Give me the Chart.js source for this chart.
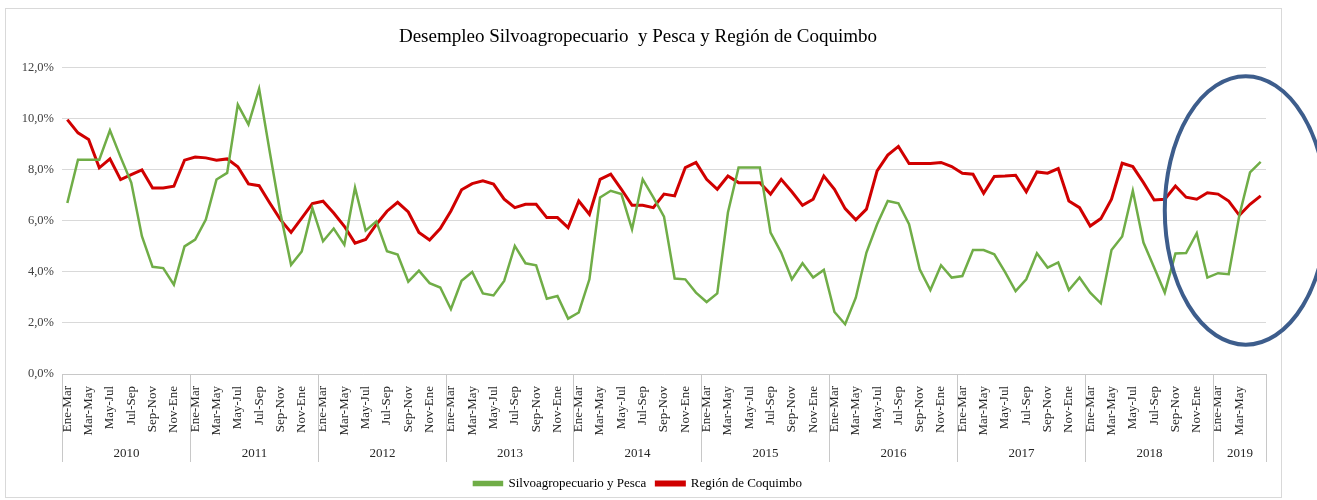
<!DOCTYPE html>
<html>
<head>
<meta charset="utf-8">
<script src="https://cdn.jsdelivr.net/npm/chart.js@4.4.1/dist/chart.umd.min.js"></script>
<style>
  html, body { margin: 0; padding: 0; background: #fff; }
  #wrap { position: relative; width: 1317px; height: 500px; }
</style>
</head>
<body>
<div id="wrap"><canvas id="desempleo"></canvas></div>
<script>
  // trimestres moviles
  var periods = ['Ene-Mar','Feb-Abr','Mar-May','Abr-Jun','May-Jul','Jun-Ago','Jul-Sep','Ago-Oct','Sep-Nov','Oct-Dic','Nov-Ene','Dic-Feb'];
  var years = ['2010','2011','2012','2013','2014','2015','2016','2017','2018','2019'];

  var silvo = [
    6.7, 8.4, 8.4, 8.4, 9.55, 8.5, 7.5, 5.4, 4.2, 4.15, 3.5, 5.0,
    5.27, 6.05, 7.62, 7.88, 10.56, 9.78, 11.18, 8.7, 6.3, 4.28, 4.8, 6.5,
    5.2, 5.7, 5.07, 7.3, 5.62, 5.98, 4.81, 4.68, 3.62, 4.05, 3.56, 3.39,
    2.54, 3.65, 4.0, 3.16, 3.08, 3.65, 5.02, 4.34, 4.26, 2.95, 3.06, 2.17,
    2.41, 3.71, 6.92, 7.18, 7.05, 5.67, 7.63, 6.92, 6.17, 3.74, 3.71, 3.19,
    2.82, 3.16, 6.33, 8.09, 8.09, 8.09, 5.54, 4.76, 3.71, 4.34, 3.78, 4.08,
    2.43, 1.95, 2.99, 4.76, 5.87, 6.78, 6.69, 5.87, 4.1, 3.29, 4.26, 3.78,
    3.84, 4.86, 4.86, 4.69, 4.0, 3.25, 3.71, 4.73, 4.17, 4.37, 3.29, 3.78,
    3.19, 2.77, 4.86, 5.39, 7.18, 5.15, 4.17, 3.19, 4.72, 4.74, 5.52, 3.78,
    3.95, 3.91, 6.22, 7.9, 8.31
  ];
  var coquimbo = [
    9.97, 9.45, 9.19, 8.08, 8.43, 7.62, 7.81, 8.0, 7.29, 7.29, 7.36, 8.38,
    8.5, 8.47, 8.38, 8.43, 8.12, 7.45, 7.38, 6.7, 6.05, 5.55, 6.11, 6.68,
    6.77, 6.31, 5.79, 5.13, 5.27, 5.86, 6.38, 6.73, 6.35, 5.55, 5.25, 5.7,
    6.39, 7.22, 7.46, 7.57, 7.44, 6.85, 6.52, 6.65, 6.65, 6.13, 6.13, 5.74,
    6.78, 6.26, 7.63, 7.83, 7.24, 6.61, 6.61, 6.52, 7.05, 6.98, 8.09, 8.29,
    7.63, 7.24, 7.76, 7.5, 7.5, 7.5, 7.05, 7.63, 7.14, 6.61, 6.85, 7.76,
    7.24, 6.48, 6.04, 6.46, 7.96, 8.58, 8.92, 8.25, 8.25, 8.25, 8.29, 8.13,
    7.87, 7.83, 7.08, 7.74, 7.76, 7.79, 7.14, 7.92, 7.87, 8.05, 6.78, 6.52,
    5.8, 6.09, 6.85, 8.26, 8.13, 7.5, 6.82, 6.85, 7.37, 6.93, 6.85, 7.1,
    7.05, 6.78, 6.22, 6.65, 6.98
  ];
  var yTicks = [0, 2, 4, 6, 8, 10, 12];

  // zona destacada (ovalo azul), en unidades del grafico
  var highlight = { from: 103.0, to: 118.2, low: 1.15, high: 11.67 };

  var labels = [];
  years.forEach(function (yr) {
    periods.forEach(function (p) {
      if (labels.length < silvo.length) labels.push(p);
    });
  });

  var serif = "'Liberation Serif', 'Times New Roman', serif";

  var framePlugin = {
    id: 'frame',
    beforeDraw: function (chart) {
      var c = chart.ctx;
      c.save();
      c.fillStyle = '#fff';
      c.fillRect(0, 0, chart.width, chart.height);
      c.strokeStyle = '#d9d9d9';
      c.lineWidth = 1;
      c.strokeRect(5.5, 8.5, 1276, 489);
      c.restore();
    }
  };

  var yearPlugin = {
    id: 'yearAxis',
    afterDraw: function (chart) {
      var x = chart.scales.x, area = chart.chartArea, c = chart.ctx;
      var half = (x.getPixelForValue(1) - x.getPixelForValue(0)) / 2;
      c.save();
      c.strokeStyle = '#c8c8c8';
      c.lineWidth = 1;
      c.fillStyle = '#262626';
      c.font = '13px ' + serif;
      c.textAlign = 'center';
      c.textBaseline = 'middle';
      years.forEach(function (yr, k) {
        var s = k * 12;
        var e = Math.min(s + 12, labels.length) - 1;
        var left = Math.round(x.getPixelForValue(s) - half) + 0.5;
        var right = Math.round(x.getPixelForValue(e) + half) + 0.5;
        c.beginPath();
        c.moveTo(left, area.bottom);
        c.lineTo(left, area.bottom + 88);
        if (k === years.length - 1) {
          c.moveTo(right, area.bottom);
          c.lineTo(right, area.bottom + 88);
        }
        c.stroke();
        c.fillText(yr, (left + right) / 2, area.bottom + 80);
      });
      c.restore();
    }
  };

  var ovalPlugin = {
    id: 'oval',
    afterDraw: function (chart) {
      var x = chart.scales.x, y = chart.scales.y, c = chart.ctx;
      var x1 = x.getPixelForValue(highlight.from), x2 = x.getPixelForValue(highlight.to);
      var y1 = y.getPixelForValue(highlight.high), y2 = y.getPixelForValue(highlight.low);
      c.save();
      c.strokeStyle = '#3d5d8c';
      c.lineWidth = 4;
      c.beginPath();
      c.ellipse((x1 + x2) / 2, (y1 + y2) / 2, (x2 - x1) / 2, (y2 - y1) / 2, 0, 0, Math.PI * 2);
      c.stroke();
      c.restore();
    }
  };

  var ctx = document.getElementById('desempleo');
  var myChart = new Chart(ctx, {
    type: 'line',
    data: {
      labels: labels,
      datasets: [{
        label: 'Silvoagropecuario y Pesca',
        data: silvo,
        borderColor: '#70ad47',
        backgroundColor: '#70ad47',
        borderWidth: 2.5,
        pointRadius: 0,
        tension: 0
      }, {
        label: 'Región de Coquimbo',
        data: coquimbo,
        borderColor: '#d00000',
        backgroundColor: '#d00000',
        borderWidth: 3,
        pointRadius: 0,
        tension: 0
      }]
    },
    options: {
      responsive: true,
      maintainAspectRatio: false,
      animation: false,
      layout: { padding: { left: 10, right: 51, top: 0, bottom: 0 } },
      plugins: {
        title: {
          display: true,
          text: 'Desempleo Silvoagropecuario  y Pesca y Región de Coquimbo',
          color: '#000',
          font: { family: serif, size: 19, weight: 'normal' },
          padding: { top: 26, bottom: 19 }
        },
        legend: {
          position: 'bottom',
          labels: {
            color: '#000',
            font: { family: serif, size: 13 },
            boxWidth: 28,
            boxHeight: 3,
            padding: 10
          }
        },
        tooltip: { enabled: false }
      },
      scales: {
        x: {
          type: 'category',
          offset: true,
          grid: { display: false },
          border: { display: true, color: '#c8c8c8' },
          ticks: {
            autoSkip: false,
            minRotation: 90,
            maxRotation: 90,
            padding: 4,
            color: '#262626',
            font: { family: serif, size: 13 },
            callback: function (v, i) {
              return (i % 2 === 0 && i < labels.length - 1) ? labels[i] : '';
            }
          },
          afterFit: function (scale) { scale.height = 93; }
        },
        y: {
          min: 0,
          max: 12,
          afterBuildTicks: function (scale) {
            scale.ticks = yTicks.map(function (v) { return { value: v }; });
          },
          grid: { color: '#d9d9d9', drawTicks: false },
          border: { display: false },
          ticks: {
            padding: 8,
            color: '#404040',
            font: { family: serif, size: 12.5 },
            callback: function (v) { return v.toFixed(1).replace('.', ',') + '%'; }
          },
          afterFit: function (scale) { scale.width = 52; }
        }
      }
    },
    plugins: [framePlugin, yearPlugin, ovalPlugin]
  });
</script>
</body>
</html>
